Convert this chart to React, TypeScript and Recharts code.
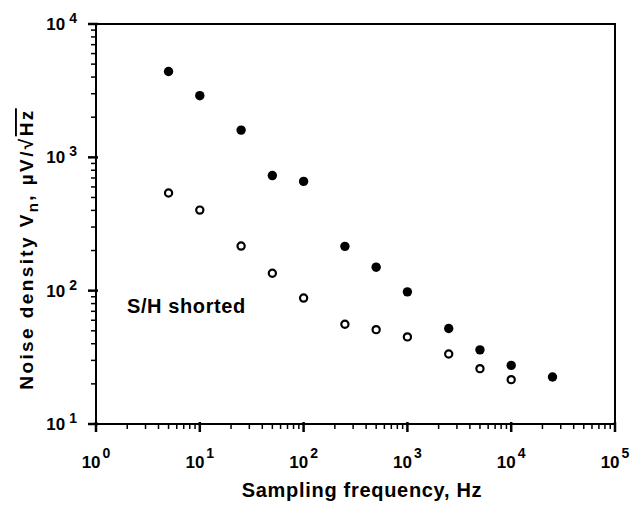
import {
  Customized,
  ReferenceArea,
  Scatter,
  ScatterChart,
  XAxis,
  YAxis,
} from "recharts"

// sampling frequencies, Hz
const FREQ = [5, 10, 25, 50, 100, 250, 500, 1000, 2500, 5000, 10000, 25000]
// filled dots, µV/√Hz
const NOISE = [4400, 2900, 1600, 730, 660, 215, 150, 98, 52, 36, 27.5, 22.5]
// open dots, S/H shorted
const SHORTED = [540, 402, 216, 135, 88, 56, 51, 45, 33.5, 26, 21.5]

const X_MAJOR = [1, 10, 100, 1000, 10000, 100000]
const X_EXP = ["0", "1", "2", "3", "4", "5"]
const Y_MAJOR = [10, 100, 1000, 10000]
const Y_EXP = ["1", "2", "3", "4"]
const MINOR = [2, 3, 4, 5, 6, 7, 8, 9]

const FONT = "'Liberation Sans', Arial, Helvetica, sans-serif"
const INK = "#000"

const withMinor = (majors: number[]) =>
  majors.flatMap((m, i) =>
    i === majors.length - 1 ? [m] : [m, ...MINOR.map((k) => k * m)]
  )

const xTicks = withMinor(X_MAJOR)
const yTicks = withMinor(Y_MAJOR)

const noiseData = FREQ.map((f, i) => ({ f, v: NOISE[i] }))
const shortedData = SHORTED.map((v, i) => ({ f: FREQ[i], v }))

function XTick({ x, y, payload }: any) {
  const idx = X_MAJOR.indexOf(payload.value)
  if (idx < 0) {
    return <line x1={x} x2={x} y1={y} y2={y + 5} stroke={INK} strokeWidth={1.5} />
  }
  return (
    <g>
      <line x1={x} x2={x} y1={y - 2} y2={y + 8} stroke={INK} strokeWidth={2.5} />
      <text
        x={x}
        y={y + 44}
        textAnchor="middle"
        fontFamily={FONT}
        fontWeight="bold"
        fontSize={17}
        fill={INK}
      >
        10
        <tspan dx={2} dy={-10} fontSize={14}>
          {X_EXP[idx]}
        </tspan>
      </text>
    </g>
  )
}

function YTick({ x, y, payload }: any) {
  const idx = Y_MAJOR.indexOf(payload.value)
  if (idx < 0) {
    return <line x1={x - 5} x2={x} y1={y} y2={y} stroke={INK} strokeWidth={1.5} />
  }
  return (
    <g>
      <line x1={x - 8} x2={x + 2} y1={y} y2={y} stroke={INK} strokeWidth={2.5} />
      <text
        x={x - 19}
        y={y + 6}
        textAnchor="end"
        fontFamily={FONT}
        fontWeight="bold"
        fontSize={17}
        fill={INK}
      >
        10
        <tspan dx={4} dy={-7} fontSize={14}>
          {Y_EXP[idx]}
        </tspan>
      </text>
    </g>
  )
}

const FilledDot = ({ cx, cy }: any) => <circle cx={cx} cy={cy} r={4.7} fill={INK} />
const OpenDot = ({ cx, cy }: any) => (
  <circle cx={cx} cy={cy} r={3.6} fill="#fff" stroke={INK} strokeWidth={2.2} />
)

function Annotations() {
  return (
    <g fontFamily={FONT} fontWeight="bold" fill={INK}>
      <text x={127} y={313} fontSize={20} letterSpacing={0.6}>
        S/H shorted
      </text>
      <text x={362} y={497} fontSize={20} letterSpacing={0.7} textAnchor="middle">
        Sampling frequency, Hz
      </text>
      <text
        transform="translate(33 249) rotate(-90)"
        fontSize={19}
        letterSpacing={2.4}
        textAnchor="middle"
      >
        Noise density V
        <tspan dy={5} fontSize={15}>
          n
        </tspan>
        <tspan dy={-5}>, µV/√</tspan>
        <tspan textDecoration="overline">Hz</tspan>
      </text>
    </g>
  )
}

export default function App() {
  return (
    <div style={{ width: 634, height: 510, background: "#fff" }}>
      <style>{`body{margin:0}`}</style>
      <ScatterChart
        width={634}
        height={510}
        margin={{ top: 24, right: 19, bottom: 0, left: 0 }}
      >
        <XAxis
          dataKey="f"
          type="number"
          scale="log"
          domain={[1, 100000]}
          ticks={xTicks}
          interval={0}
          tickSize={0}
          tickMargin={0}
          tickLine={false}
          tick={<XTick />}
          axisLine={{ stroke: INK, strokeWidth: 2 }}
          height={86}
          allowDataOverflow
        />
        <YAxis
          dataKey="v"
          type="number"
          scale="log"
          domain={[10, 10000]}
          ticks={yTicks}
          interval={0}
          tickSize={0}
          tickMargin={0}
          tickLine={false}
          tick={<YTick />}
          axisLine={{ stroke: INK, strokeWidth: 2 }}
          width={96}
          allowDataOverflow
        />
        <ReferenceArea
          x1={1}
          x2={100000}
          y1={10}
          y2={10000}
          fill="none"
          stroke={INK}
          strokeWidth={2}
          fillOpacity={0}
        />
        <Scatter data={shortedData} shape={<OpenDot />} isAnimationActive={false} />
        <Scatter data={noiseData} shape={<FilledDot />} isAnimationActive={false} />
        <Customized component={<Annotations />} />
      </ScatterChart>
    </div>
  )
}
